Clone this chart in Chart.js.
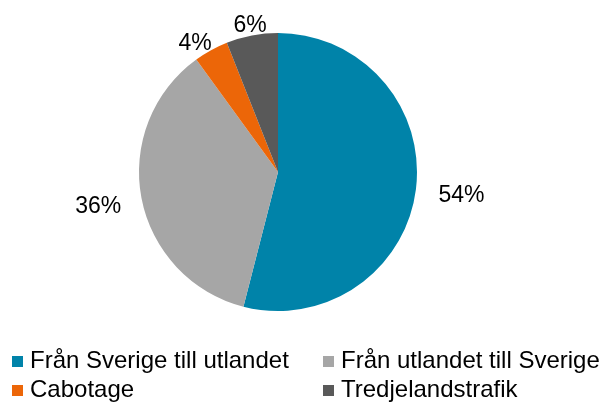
<!DOCTYPE html>
<html>
<head>
<meta charset="utf-8">
<script src="https://cdn.jsdelivr.net/npm/chart.js@4"></script>
<style>
  html, body { margin: 0; padding: 0; background: #fff; }
  #wrap { position: relative; width: 601px; height: 402px; }
  #legend { position: absolute; left: 12px; top: 346px; width: 590px;
    font-family: "Liberation Sans", Arial, sans-serif; font-size: 24px; color: #000; }
  .item { position: absolute; white-space: nowrap; line-height: 28px; }
  .box { display: inline-block; width: 11px; height: 11px; margin-right: 7px; vertical-align: 1px; }
</style>
</head>
<body>
<div id="wrap">
  <canvas id="pie" width="601" height="402"></canvas>
  <div id="legend"></div>
</div>
<script>
// transport shares, clockwise from 12 o'clock
const categories = ['Från Sverige till utlandet', 'Från utlandet till Sverige', 'Cabotage', 'Tredjelandstrafik'];
const shares = [54, 36, 4, 6];
const colors = ['#0083a9', '#a6a6a6', '#ec6608', '#595959'];

// how far outside the rim each percent label sits
const labelGap = [46, 44, 14, 10];

const outsideLabels = {
  id: 'outsideLabels',
  afterDatasetsDraw(chart) {
    const ctx = chart.ctx;
    const meta = chart.getDatasetMeta(0);
    ctx.save();
    ctx.font = '23px "Liberation Sans", Arial, sans-serif';
    ctx.fillStyle = '#000';
    ctx.textAlign = 'center';
    ctx.textBaseline = 'middle';
    meta.data.forEach((arc, i) => {
      const p = arc.getProps(['x', 'y', 'startAngle', 'endAngle', 'outerRadius'], true);
      // small slices get their label nudged a bit further round the circle
      const mid = (p.startAngle + p.endAngle) / 2 - (shares[i] < 5 ? 0.07 : 0);
      const d = p.outerRadius + labelGap[i];
      ctx.fillText(shares[i] + '%', p.x + Math.cos(mid) * d, p.y + Math.sin(mid) * d);
    });
    ctx.restore();
  }
};

new Chart(document.getElementById('pie'), {
  type: 'pie',
  data: {
    labels: categories,
    datasets: [{ data: shares, backgroundColor: colors, borderWidth: 0 }]
  },
  options: {
    responsive: false,
    animation: false,
    layout: { padding: { left: 139, right: 184, top: 33, bottom: 91 } },
    plugins: { legend: { display: false }, tooltip: { enabled: false } }
  },
  plugins: [outsideLabels]
});

// two-column legend under the pie
const legend = document.getElementById('legend');
categories.forEach((name, i) => {
  const el = document.createElement('div');
  el.className = 'item';
  el.style.left = (i % 2 ? 311 : 0) + 'px';
  el.style.top = (Math.floor(i / 2) * 29) + 'px';
  el.innerHTML = '<span class="box" style="background:' + colors[i] + '"></span>';
  el.appendChild(document.createTextNode(name));
  legend.appendChild(el);
});
</script>
</body>
</html>
